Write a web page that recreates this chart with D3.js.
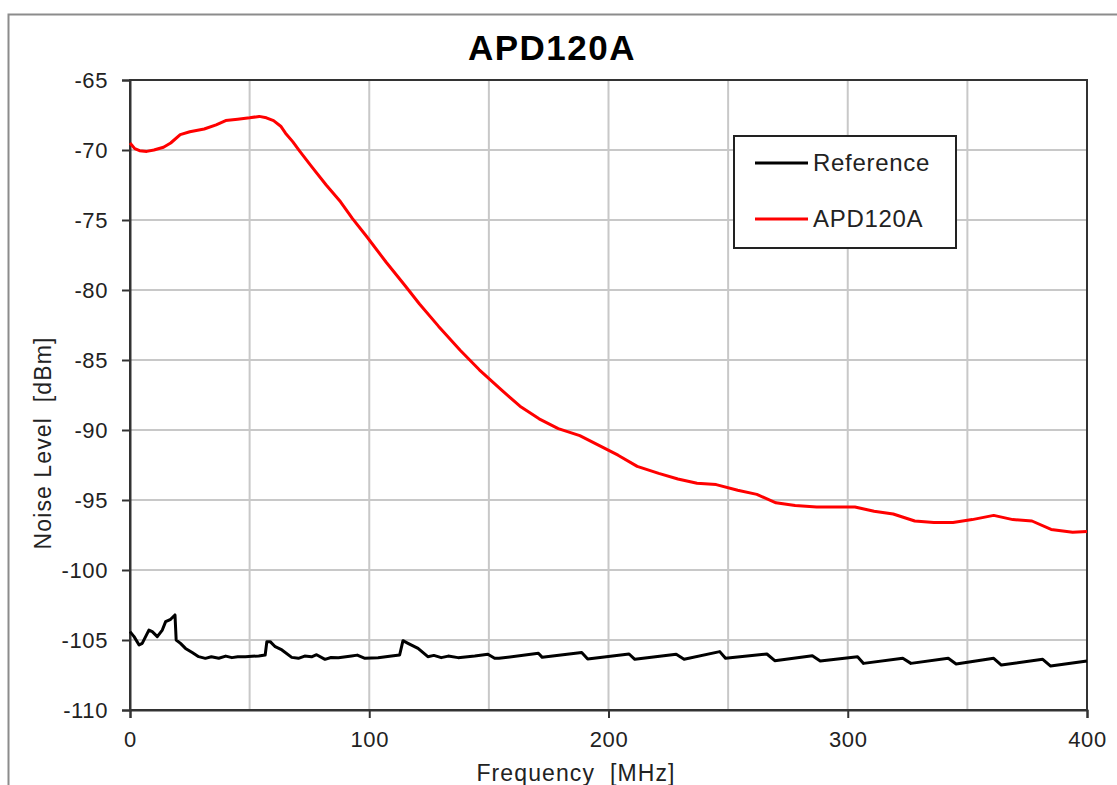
<!DOCTYPE html>
<html>
<head>
<meta charset="utf-8">
<script src="https://cdn.jsdelivr.net/npm/d3@7"></script>
<style>
  html, body { margin: 0; padding: 0; background: #fff; }
  svg { display: block; font-family: "Liberation Sans", Arial, sans-serif; }
</style>
</head>
<body>
<svg id="chart" width="1117" height="785"></svg>
<script>
// ---------- data ----------
const title = "APD120A";
const xTicks = [0, 100, 200, 300, 400];
const yTicks = [-65, -70, -75, -80, -85, -90, -95, -100, -105, -110];
const seriesNames = ["Reference", "APD120A"];
const seriesColors = ["#000000", "#ff0000"];

const refFreq = [0, 1.7, 3.8, 5.1, 7.9, 9.3, 11.4, 13.5, 14.9, 17, 18.8, 19.3, 21.1, 23.2, 26, 28.7, 31.5, 34, 37.1, 40, 42.6, 45, 48.2, 51, 53.8, 56.5, 57.2, 58.6, 60.7, 63.5, 67.6, 70.4, 73, 75.9, 78, 81.5, 84, 87.1, 92.6, 95, 98.2, 103.7, 109.3, 112.7, 114.1, 116.2, 120.4, 124.5, 127, 130.1, 133, 137.1, 144.1, 149.6, 152.4, 154.2, 170.7, 172.3, 188.8, 191.3, 208.6, 211, 228.3, 231.6, 246.5, 248.9, 266.2, 269.5, 285.2, 288.5, 304.1, 306.6, 323, 326.4, 342, 345.3, 361, 364.2, 381.5, 384.8, 400];
const refLevel = [-104.4, -104.76, -105.36, -105.24, -104.29, -104.4, -104.76, -104.29, -103.69, -103.52, -103.21, -105.0, -105.24, -105.6, -105.9, -106.19, -106.31, -106.2, -106.3, -106.15, -106.26, -106.2, -106.19, -106.16, -106.14, -106.07, -105.12, -105.12, -105.48, -105.71, -106.24, -106.31, -106.15, -106.2, -106.05, -106.38, -106.25, -106.26, -106.14, -106.08, -106.31, -106.26, -106.14, -106.07, -105.05, -105.24, -105.6, -106.19, -106.1, -106.26, -106.15, -106.26, -106.14, -106.02, -106.31, -106.31, -105.95, -106.24, -105.9, -106.36, -106.0, -106.38, -106.02, -106.38, -105.83, -106.31, -106.0, -106.48, -106.12, -106.5, -106.19, -106.67, -106.31, -106.67, -106.31, -106.71, -106.31, -106.79, -106.38, -106.86, -106.5];

const apdFreq = [0, 2, 4, 7, 10, 14, 17, 21, 25, 31, 36, 40, 45, 50, 54, 57, 60, 63, 65, 68, 71, 76, 82, 88, 93, 99, 107, 115, 121, 129, 138, 146, 155, 163, 171, 179, 188, 196, 204, 212, 221, 229, 237, 245, 254, 262, 270, 278, 287, 295, 303, 311, 319, 328, 336, 344, 352, 361, 369, 377, 385, 394, 400];
const apdLevel = [-69.5, -69.9, -70.05, -70.1, -70.0, -69.8, -69.5, -68.9, -68.7, -68.5, -68.2, -67.9, -67.8, -67.7, -67.6, -67.7, -67.9, -68.3, -68.8, -69.4, -70.1, -71.2, -72.5, -73.7, -74.9, -76.2, -78.0, -79.7, -81.0, -82.6, -84.3, -85.7, -87.1, -88.3, -89.2, -89.9, -90.4, -91.1, -91.8, -92.6, -93.1, -93.5, -93.8, -93.9, -94.3, -94.6, -95.2, -95.4, -95.5, -95.5, -95.5, -95.8, -96.0, -96.5, -96.6, -96.6, -96.4, -96.1, -96.4, -96.5, -97.1, -97.3, -97.25];

// ---------- layout ----------
const svg = d3.select("#chart");
const pLeft = 130, pRight = 1087, pTop = 80, pBottom = 710;

const x = d3.scaleLinear().domain([0, 400]).range([pLeft, pRight]);
const y = d3.scaleLinear().domain([-110, -65]).range([pBottom, pTop]);
const fmt = d => String(d);  // plain hyphen-minus like the original

// outer chart border
svg.append("rect")
  .attr("x", 8.5).attr("y", 14.5)
  .attr("width", 1120).attr("height", 800)
  .attr("fill", "none").attr("stroke", "#8c8c8c").attr("stroke-width", 2);

// gridlines
const gridX = d3.range(50, 400, 50);
svg.append("g").selectAll("line").data(gridX).join("line")
  .attr("x1", d => x(d)).attr("x2", d => x(d))
  .attr("y1", pTop).attr("y2", pBottom)
  .attr("stroke", "#c8c8c8").attr("stroke-width", 2);
svg.append("g").selectAll("line").data(yTicks.filter(d => d > -110 && d < -65)).join("line")
  .attr("x1", pLeft).attr("x2", pRight)
  .attr("y1", d => y(d)).attr("y2", d => y(d))
  .attr("stroke", "#c8c8c8").attr("stroke-width", 2);

// plot frame
svg.append("rect")
  .attr("x", pLeft).attr("y", pTop)
  .attr("width", pRight - pLeft).attr("height", pBottom - pTop)
  .attr("fill", "none").attr("stroke", "#333").attr("stroke-width", 2);

// axes
const xAxis = svg.append("g").attr("transform", `translate(0,${pBottom})`)
  .call(d3.axisBottom(x).tickValues(xTicks).tickSize(8).tickPadding(10).tickFormat(fmt));
const yAxis = svg.append("g").attr("transform", `translate(${pLeft},0)`)
  .call(d3.axisLeft(y).tickValues(yTicks).tickSize(8).tickPadding(14).tickFormat(fmt));
[xAxis, yAxis].forEach(g => {
  g.select(".domain").attr("stroke", "#333").attr("stroke-width", 2);
  g.selectAll(".tick line").attr("stroke", "#333").attr("stroke-width", 2);
  g.selectAll(".tick text").attr("fill", "#222")
    .style("font-family", "'Liberation Sans', Arial, sans-serif")
    .style("font-size", "22px").style("letter-spacing", "0.6px");
});
xAxis.selectAll(".tick text").attr("dy", "0.85em");
yAxis.selectAll(".tick text").attr("dy", "0.36em");

// lines
const line = d3.line().x(d => x(d[0])).y(d => y(d[1]));
const refData = refFreq.map((f, i) => [f, refLevel[i]]);
const apdData = apdFreq.map((f, i) => [f, apdLevel[i]]);
svg.append("path").datum(refData).attr("d", line)
  .attr("fill", "none").attr("stroke", seriesColors[0]).attr("stroke-width", 3).attr("stroke-linejoin", "round");
svg.append("path").datum(apdData).attr("d", line)
  .attr("fill", "none").attr("stroke", seriesColors[1]).attr("stroke-width", 3).attr("stroke-linejoin", "round");

// title
svg.append("text").attr("x", 552).attr("y", 60).attr("text-anchor", "middle")
  .style("font-size", "35px").style("font-weight", "bold").style("letter-spacing", "1.5px")
  .attr("fill", "#000").text(title);

// axis titles
svg.append("text").attr("x", 576).attr("y", 781).attr("text-anchor", "middle")
  .style("font-size", "23px").style("letter-spacing", "1.1px")
  .attr("fill", "#222").attr("xml:space", "preserve").text("Frequency  [MHz]");
svg.append("text").attr("transform", "translate(51,443) rotate(-90)").attr("text-anchor", "middle")
  .style("font-size", "23px").style("letter-spacing", "1.1px")
  .attr("fill", "#222").attr("xml:space", "preserve").text("Noise Level  [dBm]");

// legend
const lg = svg.append("g");
lg.append("rect").attr("x", 734).attr("y", 136).attr("width", 222).attr("height", 112)
  .attr("fill", "#fff").attr("stroke", "#222").attr("stroke-width", 2);
seriesNames.forEach((name, i) => {
  const ly = 163 + i * 56;
  lg.append("line").attr("x1", 755).attr("x2", 808).attr("y1", ly).attr("y2", ly)
    .attr("stroke", seriesColors[i]).attr("stroke-width", 3);
  lg.append("text").attr("x", 813).attr("y", ly + 8).style("font-size", "24px")
    .style("letter-spacing", "0.7px").attr("fill", "#222").text(name);
});
</script>
</body>
</html>
